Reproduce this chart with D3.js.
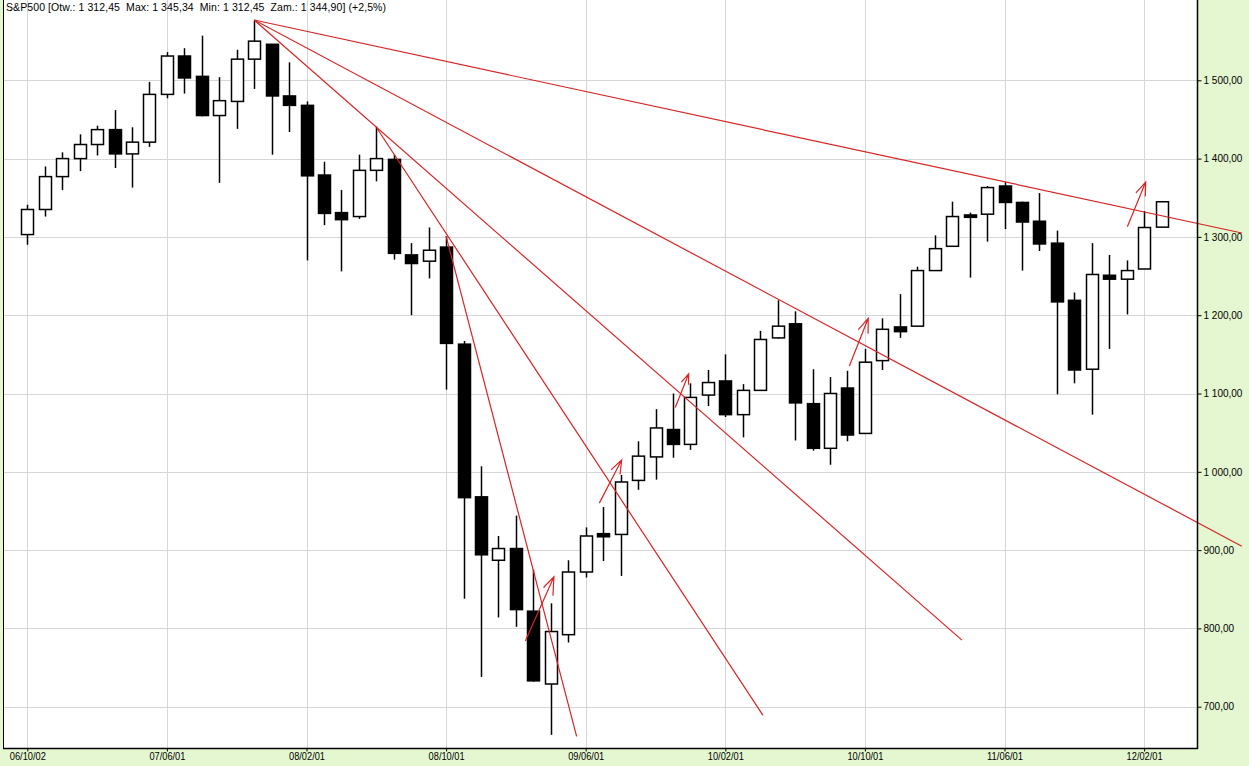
<!DOCTYPE html>
<html><head><meta charset="utf-8">
<script src="https://cdn.jsdelivr.net/npm/d3@7/dist/d3.min.js"></script>
<style>body{margin:0;background:#e4f7d0}svg{display:block}</style>
</head><body><svg id="c" width="1249" height="766"></svg>
<script>
// ---------- data ----------
const title = "S&P500 [Otw.: 1 312,45  Max: 1 345,34  Min: 1 312,45  Zam.: 1 344,90] (+2,5%)";
const openV  = [1303,1335,1377,1400,1418,1437,1406,1421,1482,1531,1505,1455,1473,1527,1546,1480,1468,1379,1331,1326,1385,1399,1277,1269,1287,1163,968,887,902,822,729,792,872,921,920,989,1019,1054,1035,1098,1116,1073,1104,1171,1189,1087,1030,1107,1049,1142,1185,1186,1257,1288,1328,1329,1365,1344,1320,1292,1219,1131,1251,1246,1259,1312.45];
const highV  = [1341,1390,1408,1431,1442,1462,1440,1498,1536,1541,1557,1504,1539,1576,1546,1523,1473,1396,1360,1405,1441,1405,1292,1312,1301,1167,1007,918,944,875,832,887,929,955,996,1039,1080,1100,1113,1130,1150,1112,1180,1219,1205,1131,1121,1129,1157,1196,1227,1262,1302,1345,1331,1365,1370,1345,1356,1308,1229,1292,1277,1270,1333,1345.34];
const lowV   = [1290,1326,1360,1384,1404,1388,1363,1415,1477,1483,1454,1369,1438,1489,1405,1434,1270,1315,1256,1323,1371,1271,1200,1247,1105,838,738,814,802,732,664,782,865,886,867,977,990,1018,1028,1084,1070,1044,1104,1170,1040,1027,1009,1039,1049,1130,1171,1186,1257,1288,1248,1294,1310,1257,1282,1099,1113,1073,1157,1201,1259,1312.45];
const closeV = [1335,1377,1400,1418,1437,1406,1421,1482,1531,1503,1455,1474,1527,1550,1480,1468,1378,1330,1322,1385,1400,1279,1266,1283,1164,967,894,902,824,733,796,872,918,917,987,1020,1056,1035,1095,1114,1073,1104,1169,1186,1088,1030,1100,1047,1140,1182,1179,1257,1285,1326,1325,1363,1344,1319,1291,1217,1130,1252,1246,1257,1312,1344.90];
const xTickIdx    = [0,8,16,24,32,40,48,56,64];
const xTickLabels = ["06/10/02","07/06/01","08/02/01","08/10/01","09/06/01","10/02/01","10/10/01","11/06/01","12/02/01"];
const yTicks = [700,800,900,1000,1100,1200,1300,1400,1500];
// trend lines: [candle index, price]
const trendFrom = [[13,1577],[13,1577],[13,1577],[20,1440],[24,1301]];
const trendTo   = [[69.6,1305],[69.6,905],[53.56,785],[42.16,689],[31.48,662]];
// arrows: [candle index, price]
const arrowTail = [[28.54,784],[32.78,960],[37.13,1082],[47.11,1135],[63.04,1313]];
const arrowTip  = [[30.18,866],[34.06,1015],[37.90,1125],[48.19,1196],[64.09,1370]];

// ---------- layout ----------
const W = 1249, H = 766;
const plot = {left: 3, right: 1197, top: 0, bottom: 748};
const svg = d3.select("#c");
const green = "#e4f7d0", gridC = "#d6d6d6", red = "#d82424";

const n = openV.length;
const x = d3.scaleLinear().domain([0, n - 1]).range([27.3, 27.3 + 17.45 * (n - 1)]);
const y = d3.scaleLinear().domain([700, 1500]).range([706.7, 80.3]);

svg.append("rect").attr("width", W).attr("height", H).attr("fill", green);
svg.append("rect").attr("x", plot.left).attr("y", plot.top)
  .attr("width", plot.right - plot.left).attr("height", plot.bottom - plot.top).attr("fill", "#fff");

svg.append("clipPath").attr("id", "pc").append("rect")
  .attr("x", plot.left).attr("y", plot.top).attr("width", plot.right - plot.left).attr("height", plot.bottom - plot.top);

// grid
const g = svg.append("g").attr("clip-path", "url(#pc)");
g.selectAll("line.h").data(yTicks).join("line")
  .attr("x1", plot.left).attr("x2", plot.right)
  .attr("y1", d => Math.round(y(d)) + 0.5).attr("y2", d => Math.round(y(d)) + 0.5)
  .attr("stroke", gridC).attr("stroke-width", 1);
g.selectAll("line.v").data(xTickIdx).join("line")
  .attr("y1", plot.top).attr("y2", plot.bottom)
  .attr("x1", d => Math.round(x(d)) + 0.5).attr("x2", d => Math.round(x(d)) + 0.5)
  .attr("stroke", gridC).attr("stroke-width", 1);

// candles
const idx = d3.range(n);
const bw = 12;
const cg = g.append("g");
cg.selectAll("line.w").data(idx).join("line")
  .attr("x1", i => Math.round(x(i)) + 0.5).attr("x2", i => Math.round(x(i)) + 0.5)
  .attr("y1", i => y(highV[i])).attr("y2", i => y(lowV[i]))
  .attr("stroke", "#000").attr("stroke-width", 1.5);
cg.selectAll("rect.b").data(idx).join("rect")
  .attr("x", i => Math.round(x(i)) + 0.5 - bw / 2)
  .attr("width", bw)
  .attr("y", i => y(Math.max(openV[i], closeV[i])))
  .attr("height", i => Math.max(1, Math.abs(y(openV[i]) - y(closeV[i]))))
  .attr("fill", i => closeV[i] >= openV[i] ? "#fff" : "#000")
  .attr("stroke", "#000").attr("stroke-width", 1.5);

// trend lines (allowed to run into the right panel)
const tl = svg.append("g");
tl.selectAll("line").data(d3.range(trendFrom.length)).join("line")
  .attr("x1", i => x(trendFrom[i][0])).attr("y1", i => y(trendFrom[i][1]))
  .attr("x2", i => x(trendTo[i][0])).attr("y2", i => y(trendTo[i][1]))
  .attr("stroke", red).attr("stroke-width", 1.2);

// arrows
const ag = svg.append("g");
d3.range(arrowTail.length).forEach(i => {
  const x0 = x(arrowTail[i][0]), y0 = y(arrowTail[i][1]);
  const x1 = x(arrowTip[i][0]), y1 = y(arrowTip[i][1]);
  const ang = Math.atan2(y0 - y1, x0 - x1);
  const a1 = ang + 20 * Math.PI / 180, a2 = ang - 21 * Math.PI / 180;
  const L = Math.hypot(x1 - x0, y1 - y0);
  const l1 = Math.min(15, L * 0.3), l2 = Math.min(19, L * 0.3);
  const p = d3.path();
  p.moveTo(x0, y0); p.lineTo(x1, y1);
  p.moveTo(x1 + l1 * Math.cos(a1), y1 + l1 * Math.sin(a1)); p.lineTo(x1, y1);
  p.lineTo(x1 + l2 * Math.cos(a2), y1 + l2 * Math.sin(a2));
  ag.append("path").attr("d", p.toString()).attr("fill", "none")
    .attr("stroke", red).attr("stroke-width", 1.2);
});

// axes frame
svg.append("line").attr("x1", plot.left + 0.5).attr("x2", plot.left + 0.5)
  .attr("y1", 0).attr("y2", plot.bottom).attr("stroke", "#000").attr("stroke-width", 1);
svg.append("line").attr("x1", plot.right + 0.5).attr("x2", plot.right + 0.5)
  .attr("y1", 0).attr("y2", plot.bottom + 1).attr("stroke", "#000").attr("stroke-width", 1.5);
svg.append("line").attr("x1", plot.left).attr("x2", plot.right + 1)
  .attr("y1", plot.bottom + 0.5).attr("y2", plot.bottom + 0.5).attr("stroke", "#000").attr("stroke-width", 1.5);

// right axis
const loc = d3.formatLocale({decimal: ",", thousands: " ", grouping: [3], currency: ["", ""]});
const fmt = loc.format(",.2f");
const yAxis = d3.axisRight(y).tickValues(yTicks).tickFormat(fmt).tickSize(4).tickPadding(2);
const ya = svg.append("g").attr("transform", `translate(${plot.right + 0.5},0)`).call(yAxis);
ya.select(".domain").remove();
ya.selectAll("text").attr("font-family", "Liberation Sans, Arial, sans-serif").attr("font-size", 10).attr("fill", "#000");

// bottom axis
const xAxis = d3.axisBottom(x).tickValues(xTickIdx).tickFormat((d, i) => xTickLabels[i]).tickSize(3).tickPadding(1);
const xa = svg.append("g").attr("transform", `translate(0,${plot.bottom + 0.5})`).call(xAxis);
xa.select(".domain").remove();
xa.selectAll("text").attr("font-family", "Liberation Sans Narrow, Liberation Sans, Arial, sans-serif")
  .attr("font-size", 10).attr("fill", "#000").attr("textLength", 36).attr("lengthAdjust", "spacingAndGlyphs");

// title
svg.append("text").attr("x", 6).attr("y", 11).attr("font-family", "Liberation Sans, Arial, sans-serif")
  .attr("font-size", 10.5).attr("fill", "#000").style("white-space", "pre")
  .attr("textLength", 380).attr("lengthAdjust", "spacing").text(title);
</script></body></html>
